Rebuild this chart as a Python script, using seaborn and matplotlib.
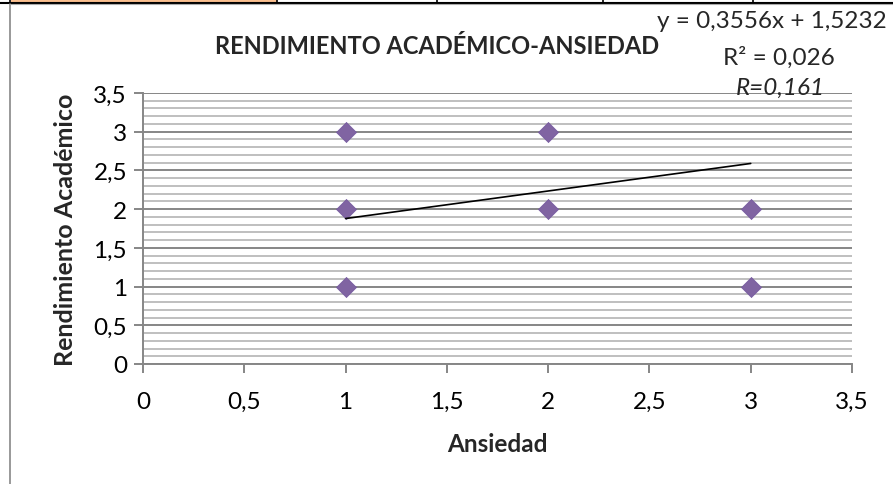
import matplotlib
matplotlib.use("Agg")
import matplotlib.pyplot as plt
from matplotlib.lines import Line2D
from matplotlib.patches import Rectangle
from matplotlib.ticker import MultipleLocator, FuncFormatter
import seaborn as sns
import pandas as pd

# Observations: anxiety level vs. academic performance
ansiedad = [1, 1, 1, 2, 2, 3, 3]
rendimiento = [3, 2, 1, 3, 2, 2, 1]

# Linear trend reported for the series
pendiente = 0.3556
intercepto = 1.5232
r2_texto = "R² = 0,026"
r_texto = "R=0,161"
tendencia_x = [1, 3]

titulo = "RENDIMIENTO ACADÉMICO-ANSIEDAD"
etiqueta_x = "Ansiedad"
etiqueta_y = "Rendimiento Académico"

sns.set_theme(style="white")
plt.rcParams["font.family"] = ["Lato", "DejaVu Sans"]

W, H = 893, 485
fig = plt.figure(figsize=(W / 100, H / 100), dpi=100)


def fx(px):
    return px / W


def fy(py):
    return 1 - py / H


# Spreadsheet row above the chart
fig.add_artist(Rectangle((fx(11), fy(3)), fx(277) - fx(11), fy(0) - fy(3),
                         transform=fig.transFigure, facecolor="#FABF8F",
                         edgecolor="none", zorder=0))
fig.add_artist(Line2D([fx(0), fx(W)], [fy(3.5), fy(3.5)], transform=fig.transFigure,
                      color="black", lw=1.5))
for cx in [10, 277, 437, 603, 753]:
    fig.add_artist(Line2D([fx(cx), fx(cx)], [fy(0), fy(3.5)], transform=fig.transFigure,
                          color="black", lw=1.2))
# Chart frame
fig.add_artist(Line2D([fx(9.5), fx(9.5)], [fy(5), fy(H)], transform=fig.transFigure,
                      color="#888888", lw=1.2))
fig.add_artist(Line2D([fx(9.5), fx(W)], [fy(5), fy(5)], transform=fig.transFigure,
                      color="#aaaaaa", lw=0.8))

ax = fig.add_axes([fx(143), fy(365), fx(852) - fx(143), fy(94) - fy(365)])

df = pd.DataFrame({"Ansiedad": ansiedad, "Rendimiento": rendimiento})
tend = pd.DataFrame({"x": tendencia_x,
                     "y": [pendiente * v + intercepto for v in tendencia_x]})

ax.set_xlim(0, 3.5)
ax.set_ylim(0, 3.5)
ax.yaxis.set_major_locator(MultipleLocator(0.5))
ax.yaxis.set_minor_locator(MultipleLocator(0.1))
ax.xaxis.set_major_locator(MultipleLocator(0.5))
ax.grid(which="minor", axis="y", color="#BFBFBF", lw=1.4, zorder=0)
ax.grid(which="major", axis="y", color="#868686", lw=1.4, zorder=0)
ax.grid(which="major", axis="x", visible=False)
ax.set_axisbelow(True)

sns.scatterplot(data=df, x="Ansiedad", y="Rendimiento", marker="D", s=105,
                color="#8064A2", edgecolor="#7459A0", linewidth=0.5, ax=ax, zorder=3)
sns.lineplot(data=tend, x="x", y="y", color="black", lw=1.2, ax=ax, zorder=4)

fmt = FuncFormatter(lambda v, p: f"{v:g}".replace(".", ","))
ax.xaxis.set_major_formatter(fmt)
ax.yaxis.set_major_formatter(fmt)

for side in ["top", "right"]:
    ax.spines[side].set_visible(False)
for side in ["left", "bottom"]:
    ax.spines[side].set_color("#868686")
    ax.spines[side].set_linewidth(1.4)

ax.tick_params(axis="both", which="major", direction="out", length=6.5, width=1.4,
               color="#868686", labelsize=17.5, labelcolor="black", pad=5)
ax.tick_params(axis="x", which="major", pad=13)
ax.tick_params(axis="y", which="minor", length=0)
ax.xaxis.set_ticks_position("bottom")
ax.yaxis.set_ticks_position("left")

ax.set_xlabel(etiqueta_x, fontsize=17.5, fontweight="bold", labelpad=14)
ax.set_ylabel(etiqueta_y, fontsize=18, fontweight="bold", labelpad=12)

fig.text(fx(437), fy(47), titulo, ha="center", va="center",
         fontsize=17, fontweight="bold")
fig.text(fx(887), fy(22), f"y = {pendiente:.4f}x + {intercepto:.4f}".replace(".", ","),
         ha="right", va="center", fontsize=17.5)
fig.text(fx(779), fy(58), r2_texto, ha="center", va="center", fontsize=17.5)
fig.text(fx(780), fy(88), r_texto, ha="center", va="center", fontsize=17.5,
         fontstyle="italic")

fig.savefig("out.png", dpi=100, facecolor="white")
